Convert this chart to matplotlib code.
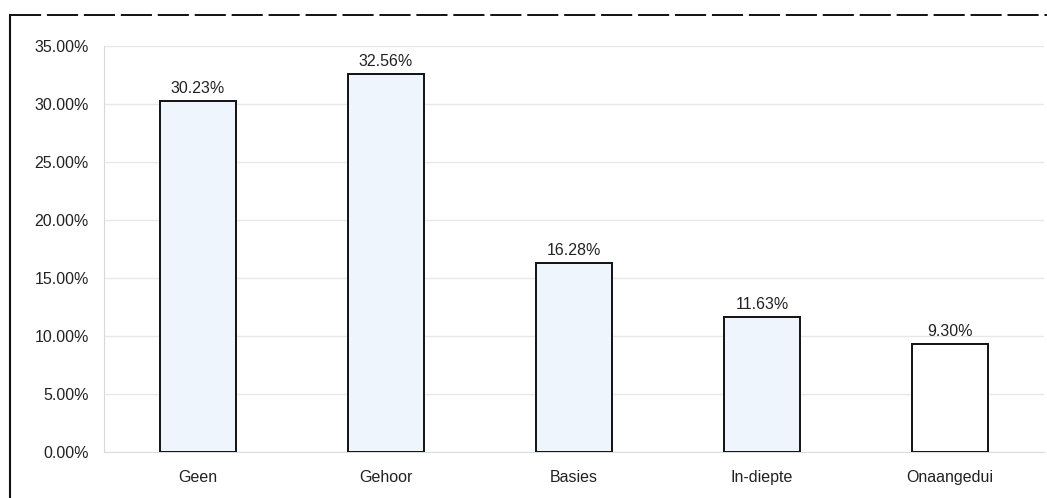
import matplotlib
matplotlib.use("Agg")
import matplotlib.pyplot as plt
from matplotlib.lines import Line2D
from matplotlib.ticker import FuncFormatter

categories = ["Geen", "Gehoor", "Basies", "In-diepte", "Onaangedui"]
values = [30.23, 32.56, 16.28, 11.63, 9.30]
bar_colors = ["#eef5fc", "#eef5fc", "#eef5fc", "#eef5fc", "#ffffff"]
y_ticks = [0, 5, 10, 15, 20, 25, 30, 35]

plt.rcParams["font.family"] = ["Liberation Sans", "DejaVu Sans"]

W, H = 1047, 498
fig = plt.figure(figsize=(W / 100, H / 100), dpi=100)
fig.patch.set_facecolor("white")
ax = fig.add_axes([104 / W, 46 / H, 940 / W, 406 / H])

x = list(range(len(categories)))
bars = ax.bar(x, values, width=0.404, color=bar_colors, edgecolor="#111111",
              linewidth=1.4, zorder=3)

for xi, v in zip(x, values):
    ax.annotate(f"{v:.2f}%", (xi, v), xytext=(0, 4), textcoords="offset points",
                ha="center", va="bottom", fontsize=11.5, color="#222222")

ax.set_xlim(-0.5, len(categories) - 0.5)
ax.set_ylim(0, 35)
ax.set_yticks(y_ticks)
ax.yaxis.set_major_formatter(FuncFormatter(lambda v, _: f"{v:.2f}%"))
ax.set_xticks(x)
ax.set_xticklabels(categories)
ax.tick_params(axis="both", length=0, labelsize=11.5, colors="#222222")
ax.tick_params(axis="y", pad=11)
ax.tick_params(axis="x", pad=13)

ax.grid(axis="y", color="#e8e8e8", linewidth=1.0, zorder=0)
for side in ("top", "right"):
    ax.spines[side].set_visible(False)
ax.spines["left"].set_color("#d8d8d8")
ax.spines["bottom"].set_color("#dddddd")

# outer frame: solid left edge and dashed top edge
fig.add_artist(Line2D([10 / W, 10 / W], [0, 1 - 15 / H], transform=fig.transFigure,
                      color="#111111", linewidth=1.5))
fig.add_artist(Line2D([10 / W, 1], [1 - 15 / H, 1 - 15 / H], transform=fig.transFigure,
                      color="#111111", linewidth=1.4, linestyle=(0, (16, 3))))

fig.savefig("out.png", dpi=100, facecolor="white")
